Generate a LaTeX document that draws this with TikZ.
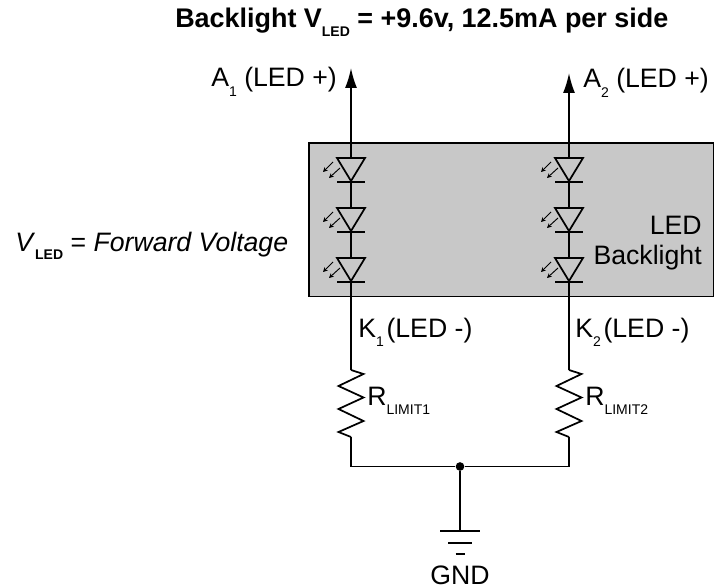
\documentclass[tikz,border=0pt]{standalone}
\usepackage{fontspec}
\setmainfont{Liberation Sans}
\usetikzlibrary{arrows.meta}
\newcommand{\sbs}[2][0.36em]{\raisebox{-#1}{\fontsize{10.5}{10.5}\selectfont #2}}
\tikzset{
    wire/.style={line width=1.3pt},
    lbl/.style={anchor=base west, inner sep=0pt, font=\fontsize{20}{20}\selectfont},
    glow/.style={line width=0.7pt, -{Stealth[length=3.5pt,width=3.5pt]}},
    led/.pic={
        \coordinate (-a) at (0,0);
        \coordinate (-k) at (0,24);
        \draw[wire, line join=miter] (-14,0) -- (14,0) -- (0,23) -- cycle;
        \draw[wire] (-14,24) -- (14,24);
        \draw[glow] (-18,4) -- (-28,14);
        \draw[glow] (-11,10) -- (-22,20);
    },
    res/.pic={
        \coordinate (-t) at (0,0);
        \coordinate (-b) at (0,67);
        \draw[wire, line join=miter] (0,0) -- (12.5,4) -- (-12.5,16) -- (12.5,27.5) -- (-12.5,39) -- (12.5,51) -- (-12.5,62) -- (0,67);
    }
}
\begin{document}
\begin{tikzpicture}[x=0.75pt,y=-0.75pt]
    \useasboundingbox (0,0) rectangle (714,588);
    \draw[line width=1.1pt, fill={rgb,255:red,200;green,200;blue,200}] (309,143) rectangle (713.4,296.5);
    % left string
    \path (351,158) pic (da) {led};
    \path (351,208) pic (db) {led};
    \path (351,258) pic (dc) {led};
    \path (351,370) pic (ra) {res};
    % right string
    \path (569,158) pic (dd) {led};
    \path (569,208) pic (de) {led};
    \path (569,258) pic (df) {led};
    \path (569,370) pic (rb) {res};
    \coordinate (tipa) at (351,68);
    \coordinate (tipb) at (569,73);
    \coordinate (cornera) at (351,466.5);
    \coordinate (cornerb) at (569,466.5);
    \coordinate (gnda) at (460,531);
    \node[circle, fill, inner sep=0pt, minimum size=6.5pt] (junc) at (460,466.5) {};
    \draw[wire, -{Latex[length=15pt,width=9pt]}] (da-a) -- (tipa);
    \draw[wire, -{Latex[length=15pt,width=9pt]}] (dd-a) -- (tipb);
    \draw[wire] (da-k) -- (db-a);
    \draw[wire] (db-k) -- (dc-a);
    \draw[wire] (dc-k) -- (ra-t);
    \draw[wire] (dd-k) -- (de-a);
    \draw[wire] (de-k) -- (df-a);
    \draw[wire] (df-k) -- (rb-t);
    \draw[wire] (ra-b) -- (cornera) -- (junc) -- (cornerb) -- (rb-b);
    \draw[wire] (junc) -- (gnda);
    \draw[wire] (440,531) -- (480,531);
    \draw[wire] (448,543) -- (472,543);
    \draw[wire] (455.5,554) -- (464.5,554);
    % labels
    \node[lbl, font=\fontsize{20.2}{20.2}\selectfont\bfseries] (title) at (175,28) {Backlight V\sbs[0.3em]{LED} = +9.6v, 12.5mA per side};
    \node[lbl] (aone) at (211,87) {A\sbs{1} (LED +)};
    \node[lbl] (atwo) at (583,88) {A\sbs{2} (LED +)};
    \node[lbl] (kone) at (358,337) {K\sbs{1}\hspace{0.1em}(LED -)};
    \node[lbl] (ktwo) at (575,337) {K\sbs{2}\hspace{0.1em}(LED -)};
    \node[lbl] (rone) at (367,405) {R\sbs{LIMIT1}};
    \node[lbl] (rtwo) at (585,405) {R\sbs{LIMIT2}};
    \node[lbl, anchor=base east] (ledtxt) at (702,234) {LED};
    \node[lbl, anchor=base east] (backtxt) at (702,264) {Backlight};
    \node[lbl] (vled) at (15,251.5) {\textit{V}\sbs[0.3em]{\textbf{LED}} = \textit{Forward Voltage}};
    \node[lbl, anchor=base] (gndtxt) at (460,584) {GND};
\end{tikzpicture}
\end{document}
